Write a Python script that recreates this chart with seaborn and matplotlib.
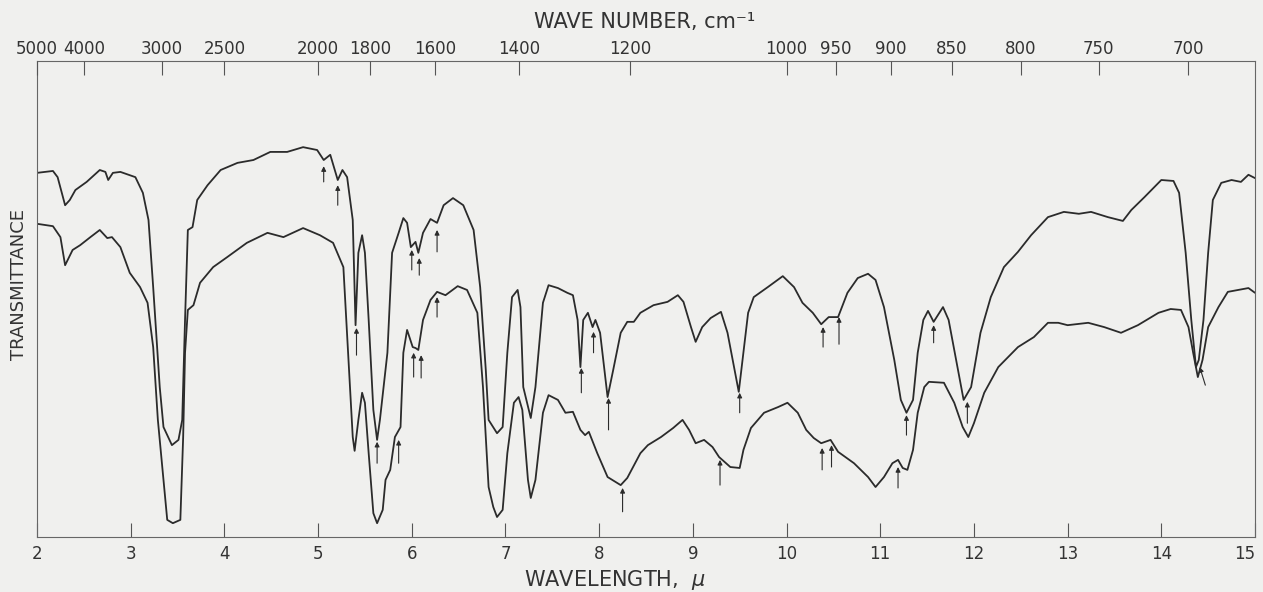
import numpy as np
import pandas as pd
import seaborn as sns
import matplotlib.pyplot as plt

# upper spectrum (wavelength in microns, transmittance in % of chart height)
wl_upper = [2.00, 2.17, 2.22, 2.30, 2.35, 2.41, 2.53, 2.67, 2.73, 2.76, 2.81, 2.89, 3.05, 3.13, 3.19,
            3.24, 3.31, 3.35, 3.44, 3.51, 3.55, 3.58, 3.61, 3.66, 3.71, 3.82, 3.96, 4.14, 4.31, 4.49,
            4.67, 4.84, 4.99, 5.06, 5.13, 5.21, 5.26, 5.31, 5.37, 5.40, 5.43, 5.47, 5.50, 5.54, 5.59,
            5.63, 5.66, 5.74, 5.79, 5.86, 5.91, 5.95, 5.99, 6.04, 6.07, 6.12, 6.20, 6.27, 6.34, 6.44,
            6.55, 6.66, 6.73, 6.79, 6.82, 6.91, 6.97, 7.02, 7.07, 7.13, 7.16, 7.19, 7.27, 7.32, 7.40,
            7.46, 7.56, 7.66, 7.72, 7.77, 7.80, 7.83, 7.88, 7.93, 7.96, 8.01, 8.09, 8.15, 8.23, 8.30,
            8.37, 8.44, 8.58, 8.73, 8.84, 8.90, 8.98, 9.03, 9.10, 9.19, 9.30, 9.37, 9.44, 9.49, 9.53,
            9.59, 9.65, 9.80, 9.96, 10.08, 10.17, 10.28, 10.37, 10.45, 10.55, 10.65, 10.76, 10.87, 10.95, 11.04,
            11.15, 11.22, 11.28, 11.35, 11.40, 11.46, 11.51, 11.57, 11.67, 11.73, 11.83, 11.89, 11.97, 12.07, 12.18,
            12.32, 12.47, 12.61, 12.79, 12.96, 13.12, 13.25, 13.43, 13.59, 13.68, 13.82, 14.00, 14.13, 14.19, 14.26,
            14.32, 14.37, 14.40, 14.45, 14.50, 14.55, 14.64, 14.75, 14.85, 14.93, 15.00]
t_upper = [76.5, 76.9, 75.6, 69.7, 70.8, 72.9, 74.6, 77.1, 76.7, 75.0, 76.5, 76.7, 75.6, 72.3, 66.6,
           52.5, 31.5, 23.1, 19.3, 20.4, 24.6, 45.6, 64.5, 65.1, 70.8, 73.9, 77.1, 78.6, 79.2, 80.9,
           80.9, 81.9, 81.3, 79.2, 80.3, 75.0, 77.1, 75.6, 66.6, 44.5, 59.7, 63.4, 59.7, 45.6, 26.7,
           20.4, 24.6, 38.7, 59.7, 63.9, 67.0, 66.0, 60.9, 62.0, 59.7, 63.9, 66.8, 66.0, 69.7, 71.2,
           69.7, 64.5, 52.5, 35.1, 24.6, 21.8, 23.1, 38.7, 50.4, 51.9, 48.3, 31.5, 25.0, 31.5, 49.2,
           52.9, 52.3, 51.3, 50.8, 45.6, 35.7, 45.6, 47.1, 44.1, 45.6, 42.9, 29.4, 35.1, 42.9, 45.2,
           45.2, 47.1, 48.7, 49.4, 50.8, 49.4, 44.1, 41.0, 44.1, 46.0, 47.3, 42.9, 35.7, 30.5, 37.2,
           47.1, 50.4, 52.5, 54.8, 52.5, 49.2, 47.1, 44.7, 46.2, 46.2, 51.3, 54.4, 55.3, 54.0, 48.3,
           37.2, 28.8, 26.1, 28.8, 38.7, 45.6, 47.5, 45.2, 48.3, 45.6, 35.1, 28.8, 31.5, 42.9, 50.4,
           56.7, 59.9, 63.4, 67.2, 68.3, 67.9, 68.3, 67.2, 66.4, 68.7, 71.4, 75.0, 74.8, 72.3, 59.7,
           45.6, 35.7, 37.2, 45.6, 59.7, 70.8, 74.4, 75.0, 74.6, 76.1, 75.4]

# lower spectrum
wl_lower = [2.00, 2.17, 2.25, 2.30, 2.38, 2.46, 2.57, 2.67, 2.75, 2.80, 2.89, 2.99, 3.10, 3.18, 3.24,
            3.29, 3.34, 3.39, 3.45, 3.53, 3.56, 3.58, 3.61, 3.67, 3.74, 3.88, 4.03, 4.24, 4.46, 4.63,
            4.84, 5.02, 5.16, 5.27, 5.32, 5.37, 5.39, 5.43, 5.47, 5.50, 5.54, 5.59, 5.63, 5.69, 5.72,
            5.77, 5.82, 5.88, 5.91, 5.95, 6.01, 6.04, 6.07, 6.12, 6.20, 6.27, 6.36, 6.49, 6.59, 6.70,
            6.76, 6.82, 6.87, 6.91, 6.97, 7.02, 7.09, 7.14, 7.18, 7.24, 7.27, 7.32, 7.40, 7.46, 7.56,
            7.64, 7.72, 7.80, 7.85, 7.89, 7.98, 8.09, 8.23, 8.30, 8.44, 8.52, 8.66, 8.79, 8.89, 8.96,
            9.03, 9.12, 9.21, 9.28, 9.40, 9.50, 9.54, 9.62, 9.76, 9.91, 10.01, 10.12, 10.21, 10.29, 10.37,
            10.47, 10.55, 10.72, 10.87, 10.95, 11.04, 11.13, 11.19, 11.24, 11.29, 11.35, 11.40, 11.47, 11.52, 11.68,
            11.79, 11.88, 11.94, 12.00, 12.11, 12.26, 12.47, 12.64, 12.79, 12.90, 13.00, 13.22, 13.39, 13.57, 13.75,
            13.97, 14.10, 14.21, 14.29, 14.34, 14.39, 14.44, 14.50, 14.61, 14.71, 14.82, 14.93, 15.00]
t_lower = [65.8, 65.3, 63.0, 57.1, 60.3, 61.3, 63.0, 64.5, 62.8, 63.0, 60.9, 55.5, 52.5, 49.2, 39.9,
           24.6, 14.1, 3.6, 2.9, 3.6, 21.0, 38.7, 47.7, 48.7, 53.4, 56.7, 58.8, 61.8, 63.9, 63.0,
           64.9, 63.4, 61.8, 56.7, 38.7, 21.0, 18.1, 24.6, 30.3, 28.2, 17.6, 5.0, 2.9, 5.7, 12.0,
           14.1, 21.0, 23.1, 38.7, 43.5, 39.9, 39.7, 39.3, 45.6, 49.8, 51.5, 50.8, 52.7, 51.9, 47.1,
           31.5, 10.5, 6.3, 4.2, 5.7, 17.6, 28.2, 29.4, 26.7, 12.0, 8.2, 12.0, 26.1, 29.8, 28.8,
           26.1, 26.3, 22.5, 21.4, 22.1, 17.6, 12.6, 10.9, 12.4, 17.6, 19.3, 21.0, 22.9, 24.6, 22.5,
           19.7, 20.4, 18.9, 16.8, 14.7, 14.5, 18.3, 22.9, 26.1, 27.3, 28.2, 26.1, 22.5, 20.8, 19.7,
           20.4, 17.9, 15.5, 12.6, 10.5, 12.6, 15.5, 16.2, 14.5, 14.1, 18.3, 26.1, 31.5, 32.6, 32.4,
           28.2, 23.1, 21.0, 23.9, 30.3, 35.7, 39.9, 42.0, 45.0, 45.0, 44.5, 45.0, 44.1, 42.9, 44.5,
           47.1, 47.9, 47.7, 44.1, 38.7, 33.6, 37.2, 44.1, 48.3, 51.5, 51.9, 52.3, 51.3]

# band markers: wavelength, arrow tip, arrow tail
arrow_wl = [5.06, 5.21, 5.41, 5.63, 6.00, 6.08, 6.27, 7.81, 7.94, 8.10, 9.50, 10.39, 10.56, 11.28, 11.57, 11.93,
            5.86, 6.02, 6.10, 6.27, 8.25, 9.29, 10.38, 10.48, 11.19]
arrow_tip = [77.9, 73.9, 43.9, 20.0, 60.3, 58.6, 64.5, 35.5, 43.1, 29.2, 30.3, 44.1, 46.2, 25.6, 44.5, 28.4,
             20.4, 38.7, 38.2, 50.4, 10.3, 16.2, 18.7, 19.3, 14.7]
arrow_tail = [74.6, 69.7, 38.2, 15.5, 56.1, 55.0, 59.9, 30.3, 38.7, 22.5, 26.1, 39.9, 40.5, 21.4, 40.8, 23.9,
              15.5, 33.6, 33.4, 46.2, 5.3, 10.9, 14.1, 14.7, 10.3]

wavelength_ticks = list(range(2, 16))
wavenumber_ticks = [5000, 4000, 3000, 2500, 2000, 1800, 1600, 1400, 1200, 1000, 950, 900, 850, 800, 750, 700]

bg = '#f0f0ee'
ink = '#2b2b2b'

sns.set_style('white')
plt.rcParams['font.family'] = ['DejaVu Sans']

df = pd.concat([
    pd.DataFrame({'wavelength': wl_upper, 'transmittance': t_upper, 'curve': 'upper'}),
    pd.DataFrame({'wavelength': wl_lower, 'transmittance': t_lower, 'curve': 'lower'}),
])

fig = plt.figure(figsize=(12.63, 5.92), dpi=100, facecolor=bg)
ax = fig.add_axes([37 / 1263, 55 / 592, 1218 / 1263, 476 / 592])
ax.set_facecolor(bg)

sns.lineplot(data=df, x='wavelength', y='transmittance', hue='curve', units='curve',
             estimator=None, palette={'upper': ink, 'lower': ink}, linewidth=1.3,
             legend=False, ax=ax)

for w, tip, tail in zip(arrow_wl, arrow_tip, arrow_tail):
    ax.annotate('', xy=(w, tip), xytext=(w, tail),
                arrowprops=dict(arrowstyle='-|>', color=ink, lw=0.8, mutation_scale=7,
                                shrinkA=0, shrinkB=0))
# slanted marker at the 14.4 band
ax.annotate('', xy=(14.41, 35.7), xytext=(14.47, 31.9),
            arrowprops=dict(arrowstyle='-|>', color=ink, lw=0.8, mutation_scale=7,
                            shrinkA=0, shrinkB=0))

ax.set_xlim(2, 15)
ax.set_ylim(0, 100)
ax.set_xticks(wavelength_ticks)
ax.set_xticklabels([str(t) for t in wavelength_ticks])
ax.get_xticklabels()[-1].set_horizontalalignment('right')
ax.set_yticks([])
ax.tick_params(axis='x', direction='in', length=10, width=0.8, color='#555555',
               labelsize=12, pad=6, labelcolor='#333333')
for s in ax.spines.values():
    s.set_color('#666666')
    s.set_linewidth(0.8)

ax.set_xlabel('WAVELENGTH,  $\\mu$', fontsize=15, color='#333333', va='top')
ax.xaxis.set_label_coords(578 / 1218, -31 / 476)
ax.set_ylabel('TRANSMITTANCE', fontsize=13, color='#333333')
ax.yaxis.set_label_coords(-9 / 1218, 0.53)

top = ax.twiny()
top.set_xlim(2, 15)
top.set_xticks([10000 / w for w in wavenumber_ticks])
top.set_xticklabels([str(w) for w in wavenumber_ticks])
top.tick_params(axis='x', direction='in', length=10, width=0.8, color='#555555',
                labelsize=12, pad=2.5, labelcolor='#333333')
for s in top.spines.values():
    s.set_visible(False)
top.set_xlabel('WAVE NUMBER, cm\u207b\u00b9', fontsize=15, color='#333333', va='bottom')
top.xaxis.set_label_coords(0.499, 1 + 29 / 476)

fig.savefig('out.png', dpi=100, facecolor=bg)
